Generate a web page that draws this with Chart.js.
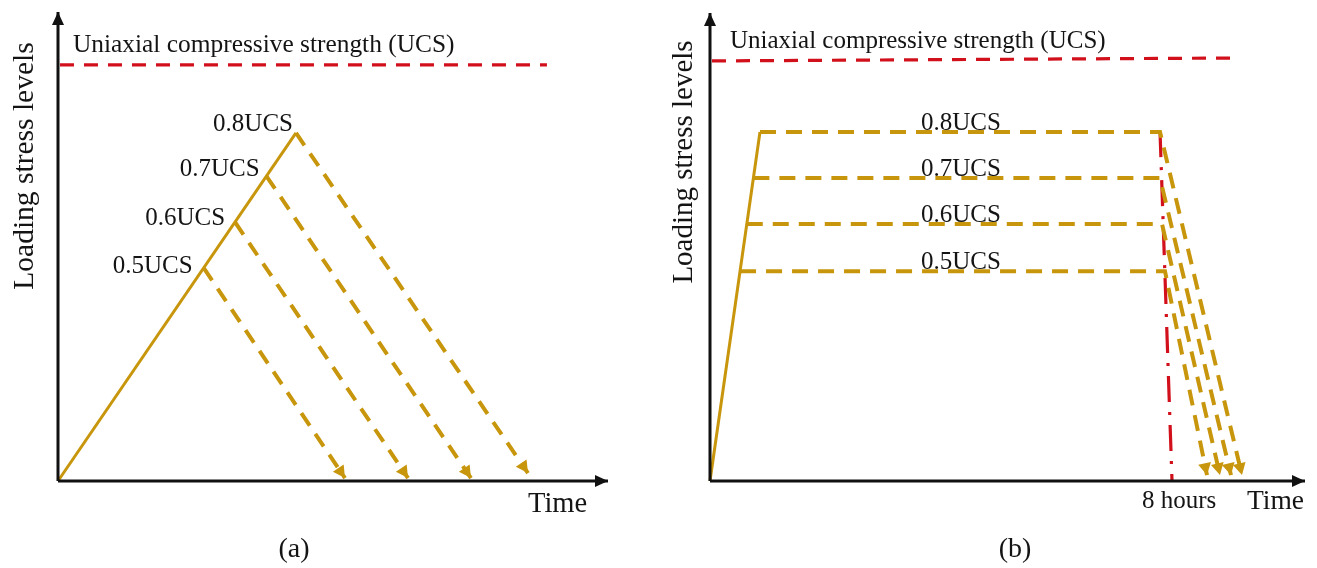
<!DOCTYPE html>
<html><head><meta charset="utf-8">
<script src="https://cdn.jsdelivr.net/npm/chart.js@4.4.1/dist/chart.umd.min.js"></script>
<style>
html,body{margin:0;padding:0;background:#fff;overflow:hidden}
#wrap{position:relative;width:1317px;height:568px;background:#fff}
canvas{position:absolute;top:0}
#ca{left:0}
#cb{left:658px}
</style></head><body>
<div id="wrap"><canvas id="ca" width="658" height="568"></canvas><canvas id="cb" width="659" height="568"></canvas></div>
<script>
// ---------- data ----------
const levelLabels = ['0.5UCS', '0.6UCS', '0.7UCS', '0.8UCS'];
const ucsLevel = 1.0;

// panel (a): ramp loading, then immediate unloading
const stressA = [0.511, 0.621, 0.731, 0.835];
const loadEndTimeA = [2.649, 3.219, 3.792, 4.327];
const unloadEndTimeA = [5.218, 6.364, 7.509, 8.545];
const unloadEndStressA = [0.007, 0.007, 0.007, 0.019];
const ucsTimeA = [0.036, 8.89];
const ucsStressA = [0.998, 0.998];

// panel (b): ramp loading, 8-hour hold, then unloading
const stressB = [0.499, 0.611, 0.7206, 0.830];
const loadEndTimeB = [0.505, 0.618, 0.729, 0.840];
const holdEndTimeB = [7.647, 7.597, 7.563, 7.563];
const unloadEndTimeB = [8.353, 8.571, 8.756, 8.941];
const unloadEndStressB = [0.014, 0.014, 0.014, 0.014];
const ucsTimeB = [0.034, 8.84];
const ucsStressB = [0.999, 1.006];
const eightHoursTime = [7.563, 7.765];
const eightHoursStress = [0.832, 0.0];

// ---------- styling ----------
const GOLD = '#C8960C';
const RED = '#D2101C';
const BLACK = '#111111';
const TEXT = '#141414';
const SERIF = '"Liberation Serif", "DejaVu Serif", serif';

function pts(xs, ys) { return xs.map((x, i) => ({x: x, y: ys[i]})); }
function ds(points, color, width, dash, arrow) {
  return {data: points, borderColor: color, backgroundColor: color, borderWidth: width,
    borderDash: dash || [], pointRadius: 0, pointHoverRadius: 0, tension: 0, clip: false,
    fill: false, borderCapStyle: 'butt', borderJoinStyle: 'miter', arrow: arrow || null};
}

const arrowPlugin = {
  id: 'arrowHeads',
  afterDatasetsDraw(chart) {
    const ctx = chart.ctx;
    chart.data.datasets.forEach((d, i) => {
      if (!d.arrow) return;
      const meta = chart.getDatasetMeta(i);
      const n = meta.data.length;
      const a = meta.data[n - 2], b = meta.data[n - 1];
      const dx = b.x - a.x, dy = b.y - a.y, L = Math.hypot(dx, dy);
      const ux = dx / L, uy = dy / L;
      const bx = b.x - ux * d.arrow.len, by = b.y - uy * d.arrow.len;
      ctx.save();
      ctx.fillStyle = d.borderColor;
      ctx.beginPath();
      ctx.moveTo(b.x, b.y);
      ctx.lineTo(bx - uy * d.arrow.w, by + ux * d.arrow.w);
      ctx.lineTo(bx + uy * d.arrow.w, by - ux * d.arrow.w);
      ctx.closePath();
      ctx.fill();
      ctx.restore();
    });
  }
};

function textPlugin(items) {
  return {
    id: 'texts',
    afterDraw(chart) {
      const ctx = chart.ctx, xs = chart.scales.x, ys = chart.scales.y;
      items.forEach(it => {
        let px = it.px, py = it.py;
        if (it.xv !== undefined) px = xs.getPixelForValue(it.xv) + (it.dx || 0);
        if (it.yv !== undefined) py = ys.getPixelForValue(it.yv) + (it.dy || 0);
        ctx.save();
        ctx.font = it.font;
        ctx.fillStyle = TEXT;
        ctx.textAlign = it.align || 'left';
        ctx.textBaseline = 'alphabetic';
        ctx.translate(px, py);
        if (it.rot) ctx.rotate(it.rot);
        ctx.fillText(it.text, 0, 0);
        ctx.restore();
      });
    }
  };
}

function makeChart(id, datasets, yMax, padding, texts) {
  return new Chart(document.getElementById(id), {
    type: 'line',
    data: {datasets: datasets},
    options: {
      responsive: false, animation: false, events: [],
      layout: {padding: padding},
      plugins: {legend: {display: false}, tooltip: {enabled: false}},
      scales: {
        x: {type: 'linear', min: 0, max: 10, display: false},
        y: {type: 'linear', min: 0, max: yMax, display: false}
      }
    },
    plugins: [arrowPlugin, textPlugin(texts)]
  });
}

const AX_ARROW = {len: 13, w: 6};
const GOLD_ARROW = {len: 12, w: 6.5};

// ---------- panel (a) ----------
const yMaxA = 1.125;
const dsA = [
  ds(pts([0, 0], [0, yMaxA]), BLACK, 3, null, AX_ARROW),
  ds(pts([0, 10], [0, 0]), BLACK, 3, null, AX_ARROW),
  ds(pts(ucsTimeA, ucsStressA), RED, 3.2, [14, 10]),
  ds(pts([0, loadEndTimeA[3]], [0, stressA[3]]), GOLD, 3)
];
for (let i = 0; i < 4; i++) {
  dsA.push(ds(pts([loadEndTimeA[i], unloadEndTimeA[i]], [stressA[i], unloadEndStressA[i]]), GOLD, 4, [15, 10], GOLD_ARROW));
}
const offA = [[-11, 5], [-10, 3], [-7, 0], [-3, -2]];
const textsA = [
  {text: 'Uniaxial compressive strength (UCS)', px: 73, py: 52, font: '25.4px ' + SERIF},
  {text: 'Loading stress levels', px: 33, py: 166, font: '29.5px ' + SERIF, align: 'center', rot: -Math.PI / 2},
  {text: 'Time', px: 528, py: 512, font: '28.5px ' + SERIF},
  {text: '(a)', px: 294, py: 557, font: '28px ' + SERIF, align: 'center'}
];
for (let i = 0; i < 4; i++) {
  textsA.push({text: levelLabels[i], xv: loadEndTimeA[i], yv: stressA[i], dx: offA[i][0], dy: offA[i][1], font: '25px ' + SERIF, align: 'right'});
}
makeChart('ca', dsA, yMaxA, {left: 58, right: 50, top: 12, bottom: 87}, textsA);

// ---------- panel (b) ----------
const yMaxB = 1.113;
const dsB = [
  ds(pts([0, 0], [0, yMaxB]), BLACK, 3, null, AX_ARROW),
  ds(pts([0, 10], [0, 0]), BLACK, 3, null, AX_ARROW),
  ds(pts(ucsTimeB, ucsStressB), RED, 3.2, [14, 10]),
  ds(pts([0, loadEndTimeB[3]], [0, stressB[3]]), GOLD, 3)
];
for (let i = 0; i < 4; i++) {
  dsB.push(ds(pts([loadEndTimeB[i], holdEndTimeB[i], unloadEndTimeB[i]], [stressB[i], stressB[i], unloadEndStressB[i]]), GOLD, 4, [16, 10], GOLD_ARROW));
}
dsB.push(ds(pts(eightHoursTime, eightHoursStress), RED, 3.2, [26, 10, 3, 10]));
const textsB = [
  {text: 'Uniaxial compressive strength (UCS)', px: 72, py: 48, font: '25px ' + SERIF},
  {text: 'Loading stress levels', px: 34, py: 162, font: '29px ' + SERIF, align: 'center', rot: -Math.PI / 2},
  {text: '8 hours', px: 484, py: 508, font: '25px ' + SERIF},
  {text: 'Time', px: 589, py: 509, font: '27.5px ' + SERIF},
  {text: '(b)', px: 357, py: 557, font: '28px ' + SERIF, align: 'center'}
];
for (let i = 0; i < 4; i++) {
  textsB.push({text: levelLabels[i], px: 303, yv: stressB[i], dy: -2, font: '25px ' + SERIF, align: 'center'});
}
makeChart('cb', dsB, yMaxB, {left: 52, right: 12, top: 13, bottom: 87}, textsB);
</script>
</body></html>
